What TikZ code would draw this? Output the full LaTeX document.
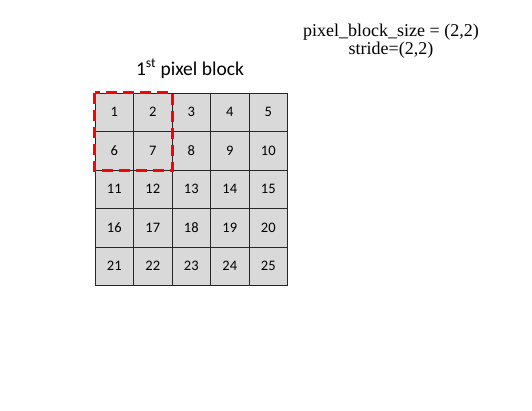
\documentclass[tikz,border=0pt]{standalone}
\usepackage{fontspec}
\setmainfont{Carlito}
\newfontfamily\timesfont{Liberation Serif}
\usepackage{tikz}

\definecolor{cellgray}{HTML}{D9D9D9}

\begin{document}
\begin{tikzpicture}[x=1pt, y=-1pt, every node/.style={font=\fontsize{14.5}{16}\selectfont},
  cell/.style={draw=black!85, fill=cellgray, minimum size=38.5pt, inner sep=0pt, line width=0.8pt},
  blockframe/.style={draw=red, line width=3pt, dash pattern=on 11pt off 6pt}]

  % page
  \useasboundingbox (0,0) rectangle (532,411);

  % grid of pixels
  \foreach \r in {1,...,5} {
    \foreach \c in {1,...,5} {
      \pgfmathtruncatemacro{\n}{(\r-1)*5+\c}
      \node[cell] (c\n) at ({95+38.5*(\c-0.5)}, {93+38.5*(\r-0.5)}) {\n};
    }
  }

  % labels
  \node[font=\fontsize{19.5}{22}\selectfont] (title) at (190,69) {1\textsuperscript{st} pixel block};
  \node[font=\timesfont\fontsize{18}{18}\selectfont, align=center] (params) at (391,41)
    {pixel\_block\_size = (2,2)\\stride=(2,2)};

  % first block
  \draw[blockframe] (c1.north west) rectangle (c7.south east);

\end{tikzpicture}
\end{document}
